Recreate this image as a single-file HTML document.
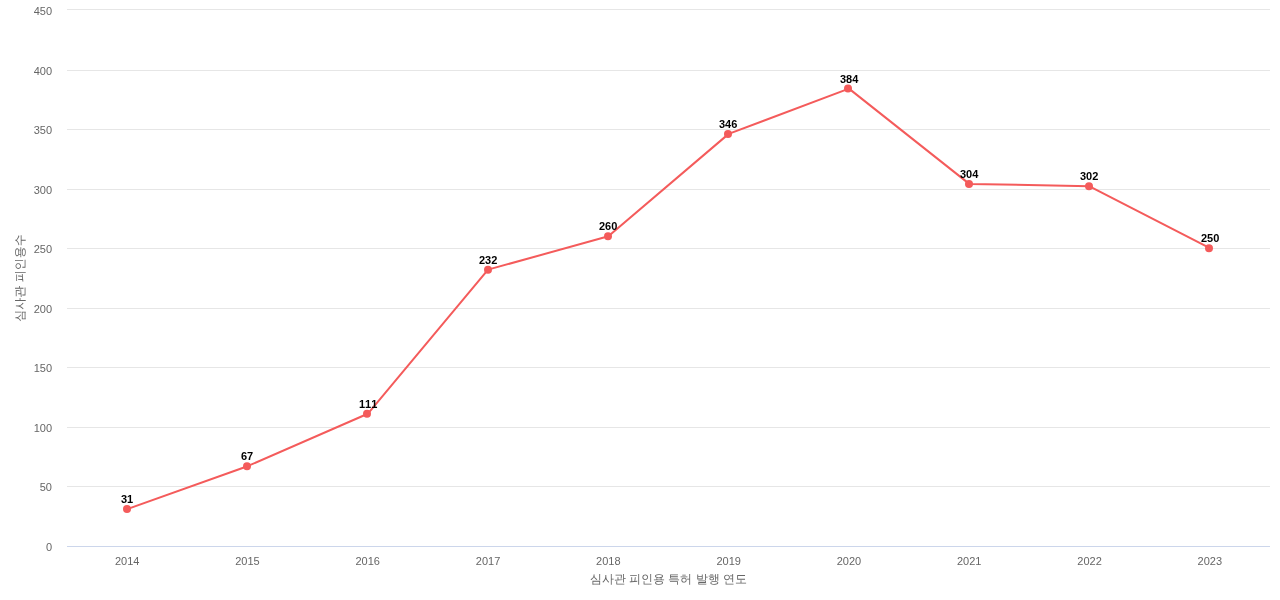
<!DOCTYPE html>
<html lang="ko"><head><meta charset="utf-8"><title>chart</title>
<style>
html,body{margin:0;padding:0;background:#fff;width:1280px;height:600px;overflow:hidden}
svg{display:block;will-change:transform;font-family:"Liberation Sans","WenQuanYi Zen Hei",sans-serif}
.ax{font-size:11px;fill:#666666}
.ti{font-size:12px;fill:#666666}
.dl{font-size:11px;font-weight:bold;fill:#000;font-kerning:none}
</style></head><body>
<svg width="1280" height="600" viewBox="0 0 1280 600">
<rect x="0" y="0" width="1280" height="600" fill="#ffffff"/>
<path d="M 67 486.5 L 1270 486.5" stroke="#e6e6e6" stroke-width="1" fill="none"/>
<path d="M 67 427.5 L 1270 427.5" stroke="#e6e6e6" stroke-width="1" fill="none"/>
<path d="M 67 367.5 L 1270 367.5" stroke="#e6e6e6" stroke-width="1" fill="none"/>
<path d="M 67 308.5 L 1270 308.5" stroke="#e6e6e6" stroke-width="1" fill="none"/>
<path d="M 67 248.5 L 1270 248.5" stroke="#e6e6e6" stroke-width="1" fill="none"/>
<path d="M 67 189.5 L 1270 189.5" stroke="#e6e6e6" stroke-width="1" fill="none"/>
<path d="M 67 129.5 L 1270 129.5" stroke="#e6e6e6" stroke-width="1" fill="none"/>
<path d="M 67 70.5 L 1270 70.5" stroke="#e6e6e6" stroke-width="1" fill="none"/>
<path d="M 67 9.5 L 1270 9.5" stroke="#e6e6e6" stroke-width="1" fill="none"/>
<path d="M 67 546.5 L 1270 546.5" stroke="#ccd6eb" stroke-width="1" fill="none"/>
<text class="ax" x="52" y="551" text-anchor="end">0</text>
<text class="ax" x="52" y="491" text-anchor="end">50</text>
<text class="ax" x="52" y="432" text-anchor="end">100</text>
<text class="ax" x="52" y="372" text-anchor="end">150</text>
<text class="ax" x="52" y="313" text-anchor="end">200</text>
<text class="ax" x="52" y="253" text-anchor="end">250</text>
<text class="ax" x="52" y="194" text-anchor="end">300</text>
<text class="ax" x="52" y="134" text-anchor="end">350</text>
<text class="ax" x="52" y="75" text-anchor="end">400</text>
<text class="ax" x="52" y="15" text-anchor="end">450</text>
<text class="ax" x="127.15" y="565" text-anchor="middle">2014</text>
<text class="ax" x="247.45" y="565" text-anchor="middle">2015</text>
<text class="ax" x="367.75" y="565" text-anchor="middle">2016</text>
<text class="ax" x="488.05" y="565" text-anchor="middle">2017</text>
<text class="ax" x="608.35" y="565" text-anchor="middle">2018</text>
<text class="ax" x="728.65" y="565" text-anchor="middle">2019</text>
<text class="ax" x="848.95" y="565" text-anchor="middle">2020</text>
<text class="ax" x="969.25" y="565" text-anchor="middle">2021</text>
<text class="ax" x="1089.55" y="565" text-anchor="middle">2022</text>
<text class="ax" x="1209.85" y="565" text-anchor="middle">2023</text>
<text class="ti" x="590 602 614 626 629 641 653 665 668 680 692 696 708 720 723 735" y="583">심사관 피인용 특허 발행 연도</text>
<text class="ti" x="24" y="278" text-anchor="middle" transform="rotate(270 24 278)">심사관 피인용수</text>
<path d="M 127.15 509.08 L 247.45 466.20 L 367.75 413.79 L 488.05 269.66 L 608.35 236.31 L 728.65 133.88 L 848.95 88.61 L 969.25 183.90 L 1089.55 186.28 L 1209.85 248.22" stroke="#f45b5b" stroke-width="2" fill="none" stroke-linejoin="round" stroke-linecap="round"/>
<circle cx="127" cy="509.08" r="4" fill="#f45b5b"/>
<circle cx="247" cy="466.20" r="4" fill="#f45b5b"/>
<circle cx="367" cy="413.79" r="4" fill="#f45b5b"/>
<circle cx="488" cy="269.66" r="4" fill="#f45b5b"/>
<circle cx="608" cy="236.31" r="4" fill="#f45b5b"/>
<circle cx="728" cy="133.88" r="4" fill="#f45b5b"/>
<circle cx="848" cy="88.61" r="4" fill="#f45b5b"/>
<circle cx="969" cy="183.90" r="4" fill="#f45b5b"/>
<circle cx="1089" cy="186.28" r="4" fill="#f45b5b"/>
<circle cx="1209" cy="248.22" r="4" fill="#f45b5b"/>
<text class="dl" x="121" y="503">31</text>
<text class="dl" x="241" y="460">67</text>
<text class="dl" x="359" y="408">111</text>
<text class="dl" x="479" y="264">232</text>
<text class="dl" x="599" y="230">260</text>
<text class="dl" x="719" y="128">346</text>
<text class="dl" x="840" y="83">384</text>
<text class="dl" x="960" y="178">304</text>
<text class="dl" x="1080" y="180">302</text>
<text class="dl" x="1201" y="242">250</text>
</svg></body></html>
